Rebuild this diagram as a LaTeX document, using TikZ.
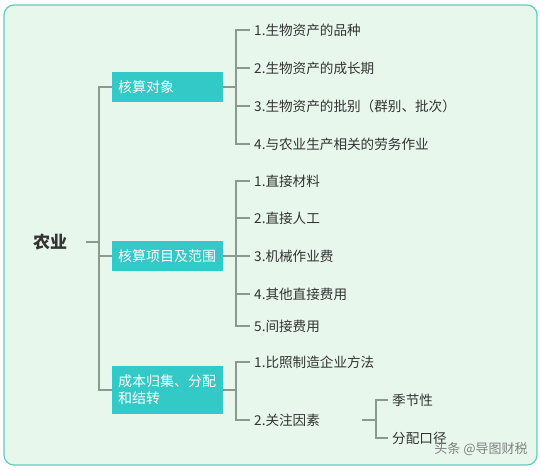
\documentclass[tikz,border=0pt]{standalone}
\usepackage{fontspec}
\setmainfont{Noto Sans CJK SC}
\usetikzlibrary{positioning}
\definecolor{Mint}{HTML}{E8F7EC}
\definecolor{Frame}{HTML}{5CCFC0}
\definecolor{Teal}{HTML}{33C9C6}
\definecolor{Twig}{HTML}{8A9A8C}
\definecolor{Ink}{HTML}{333333}

\begin{document}
\begin{tikzpicture}[x=1pt,y=-1pt,
  rootnode/.style={font=\fontsize{17}{20}\selectfont\bfseries,text=Ink,minimum width=72pt,inner sep=0pt},
  topic/.style={fill=Teal,text=white,font=\fontsize{14}{17}\selectfont,minimum height=30pt,anchor=west,align=left,text width=99pt,inner xsep=6pt},
  leaf/.style={text=Ink,font=\fontsize{13.6}{16}\selectfont,anchor=west,inner sep=4pt},
  link/.style={draw=Twig,line width=1.2pt}
]
\useasboundingbox (0,0) rectangle (541,469);
\fill[white] (0,0) rectangle (541,469);
\draw[Frame,fill=Mint,line width=1.2pt,rounded corners=10pt] (4,5) rectangle (537,465);

\node[rootnode] (root) at (50,242) {农业};
\node[topic] (b1) at (112,87) {核算对象};
\node[topic] (b2) at (112,256) {核算项目及范围};
\node[topic,minimum height=48pt] (b3) at (112,390) {成本归集、分配\\和结转};

\node[leaf] (l11) at (250,30) {1.生物资产的品种};
\node[leaf] (l12) at (250,68) {2.生物资产的成长期};
\node[leaf] (l13) at (250,106) {3.生物资产的批别（群别、批次）};
\node[leaf] (l14) at (250,144) {4.与农业生产相关的劳务作业};

\node[leaf] (l21) at (250,181) {1.直接材料};
\node[leaf] (l22) at (250,218) {2.直接人工};
\node[leaf] (l23) at (250,256) {3.机械作业费};
\node[leaf] (l24) at (250,294) {4.其他直接费用};
\node[leaf] (l25) at (250,326) {5.间接费用};

\node[leaf] (l31) at (250,362) {1.比照制造企业方法};
\node[leaf,text width=104pt] (l32) at (250,420) {2.关注因素};
\node[leaf] (l41) at (388,400) {季节性};
\node[leaf] (l42) at (388,438) {分配口径};

\node[text=gray,font=\fontsize{13}{15}\selectfont] (mark) at (481,449) {头条 @导图财税};

% trunk
\coordinate (t0) at (99,242);
\draw[link] (root) -- (t0);
\draw[link] (t0) |- (b1); \draw[link] (t0) |- (b2); \draw[link] (t0) |- (b3);

% branches
\coordinate (t1) at (236,87);
\coordinate (t2) at (236,256);
\coordinate (t3) at (236,390);
\coordinate (t4) at (376,420);
\draw[link] (b1) -- (t1); \draw[link] (b2) -- (t2); \draw[link] (b3) -- (t3);
\foreach \n in {l11,l12,l13,l14} \draw[link] (t1) |- (\n.west);
\foreach \n in {l21,l22,l23,l24,l25} \draw[link] (t2) |- (\n.west);
\foreach \n in {l31,l32} \draw[link] (t3) |- (\n.west);
\draw[link] (l32) -- (t4);
\foreach \n in {l41,l42} \draw[link] (t4) |- (\n.west);
\end{tikzpicture}
\end{document}
